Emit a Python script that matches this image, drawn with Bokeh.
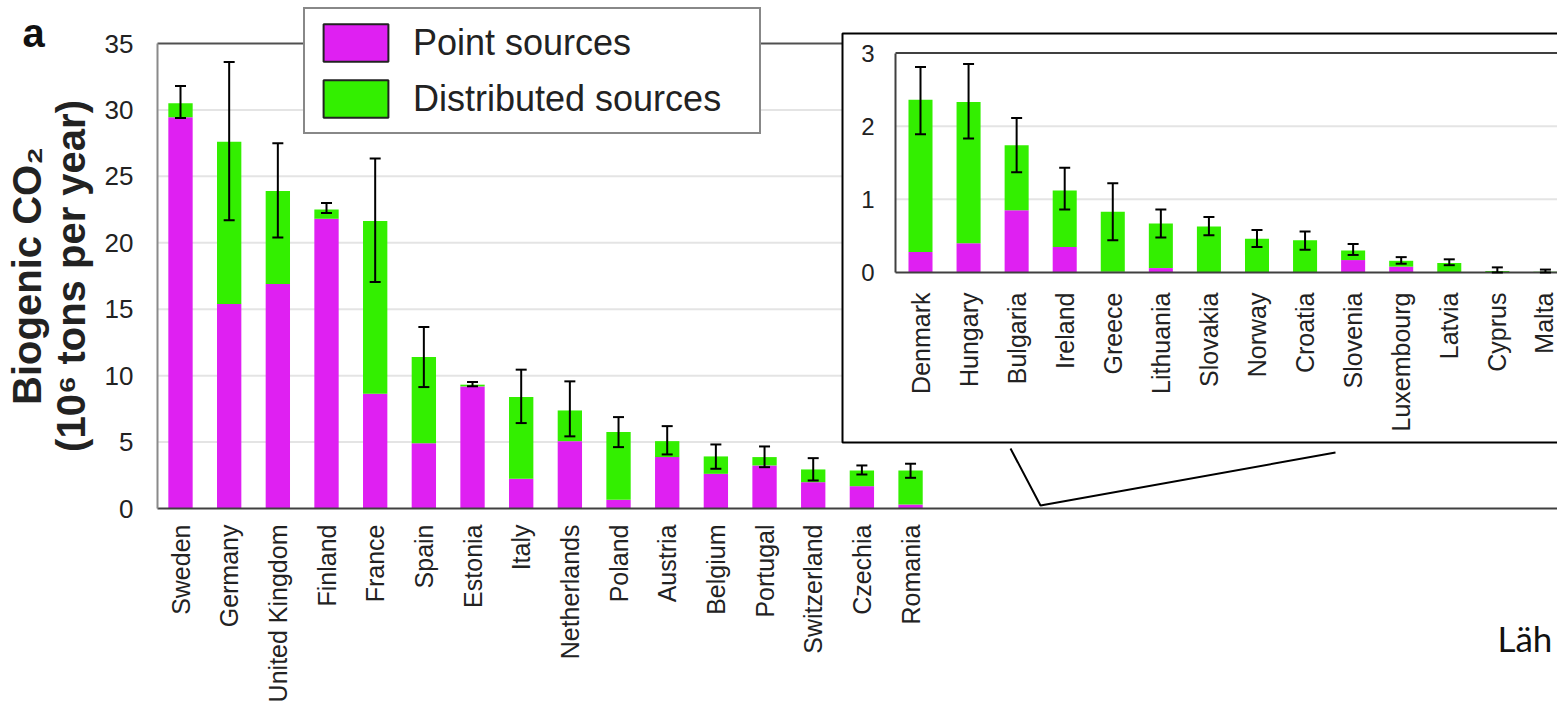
from math import pi
from bokeh.plotting import figure
from bokeh.models import (Range1d, LinearAxis, FixedTicker, ColumnDataSource, Whisker,
                          Legend, LegendItem, Label, TeeHead)
from bokeh.embed import file_html
from bokeh.resources import INLINE

# ---------------- data ----------------
main_countries = ["Sweden", "Germany", "United Kingdom", "Finland", "France", "Spain",
                  "Estonia", "Italy", "Netherlands", "Poland", "Austria", "Belgium",
                  "Portugal", "Switzerland", "Czechia", "Romania"]
main_point = [29.45, 15.4, 16.9, 21.8, 8.64, 4.92, 9.19, 2.24, 5.07, 0.65, 3.87, 2.61,
              3.24, 1.98, 1.68, 0.30]
main_distributed = [1.05, 12.2, 7.0, 0.7, 13.0, 6.48, 0.13, 6.15, 2.31, 5.10, 1.20, 1.31,
                    0.63, 0.96, 1.18, 2.56]
main_err_low = [29.4, 21.7, 20.4, 22.25, 17.05, 9.14, 9.2, 6.43, 5.43, 4.62, 4.07, 2.99,
                3.11, 2.11, 2.56, 2.31]
main_err_high = [31.8, 33.6, 27.5, 23.0, 26.35, 13.66, 9.52, 10.45, 9.57, 6.88, 6.2, 4.82,
                 4.67, 3.79, 3.24, 3.37]

inset_countries = ["Denmark", "Hungary", "Bulgaria", "Ireland", "Greece", "Lithuania",
                   "Slovakia", "Norway", "Croatia", "Slovenia", "Luxembourg", "Latvia",
                   "Cyprus", "Malta"]
inset_point = [0.28, 0.40, 0.85, 0.35, 0.01, 0.06, 0.0, 0.0, 0.0, 0.17, 0.08, 0.0, 0.0, 0.0]
inset_distributed = [2.08, 1.93, 0.89, 0.77, 0.82, 0.61, 0.63, 0.46, 0.44, 0.13, 0.08, 0.13,
                     0.02, 0.01]
inset_err_low = [1.89, 1.83, 1.37, 0.86, 0.44, 0.48, 0.51, 0.35, 0.31, 0.24, 0.12, 0.10,
                 0.0, 0.0]
inset_err_high = [2.81, 2.85, 2.11, 1.43, 1.22, 0.86, 0.76, 0.58, 0.56, 0.39, 0.21, 0.18,
                  0.07, 0.04]

main_yticks = [0, 5, 10, 15, 20, 25, 30, 35]
inset_yticks = [0, 1, 2, 3]

MAGENTA = "#DF20F2"
GREEN = "#33EF00"
FONT = "Liberation Sans"
NAN = float("nan")

# ---------------- geometry (reference pixels) ----------------
W, H = 1557, 705

# main scale
M_X0, M_DX = 180, 48.67
M_Y0, M_DY = 508, (508 - 43) / 35.0
def mx(c): return (c - M_X0) / M_DX
def my(c): return (M_Y0 - c) / M_DY
# inset scale
I_X0, I_DX = 920, 48.07
I_Y0, I_DY = 272, (272 - 52.5) / 3.0
def ix(c): return (c - I_X0) / I_DX
def iy(c): return (I_Y0 - c) / I_DY

p = figure(width=W, height=H, output_backend="svg", toolbar_location=None,
           x_range=Range1d(mx(0), mx(W)), y_range=Range1d(my(H), my(0)),
           x_axis_type=None, y_axis_type=None, min_border=0,
           min_border_left=0, min_border_right=0, min_border_top=0, min_border_bottom=0)
p.outline_line_color = None
p.background_fill_color = "white"
p.border_fill_color = "white"
p.grid.visible = False
p.extra_x_ranges = {"ix": Range1d(ix(0), ix(W))}
p.extra_y_ranges = {"iy": Range1d(iy(H), iy(0))}

AX_L = mx(157)
AX_R = mx(W + 20)

# ---------------- main chart ----------------
gy = main_yticks[1:-1]
p.segment(x0=[AX_L] * len(gy), y0=gy, x1=[AX_R] * len(gy), y1=gy,
          line_color="#e4e4e4", line_width=2)
# top border of main frame
p.segment(x0=AX_L, y0=main_yticks[-1], x1=AX_R, y1=main_yticks[-1],
          line_color="#505050", line_width=2)

yaxis = LinearAxis(fixed_location=AX_L, ticker=FixedTicker(ticks=main_yticks),
                   bounds=(0, 35),
                   axis_line_color="#8a8a8a", axis_line_width=2,
                   major_tick_line_color=None, minor_tick_line_color=None,
                   major_label_text_font=FONT, major_label_text_font_size="26px",
                   major_label_text_color="#222222", major_label_standoff=18,
                   axis_label="Biogenic CO\u2082\n(10\u2076 tons per year)",
                   axis_label_text_font=FONT, axis_label_text_font_size="40px",
                   axis_label_text_font_style="bold", axis_label_text_color="#222222",
                   axis_label_text_line_height=0.98, axis_label_standoff=9)
p.add_layout(yaxis, "left")

xaxis = LinearAxis(fixed_location=0, bounds=(AX_L, AX_R),
                   ticker=FixedTicker(ticks=list(range(len(main_countries)))),
                   major_label_overrides={i: c for i, c in enumerate(main_countries)},
                   major_label_orientation=pi / 2,
                   axis_line_color="#404040", axis_line_width=2,
                   major_tick_line_color=None, minor_tick_line_color=None,
                   major_label_text_font=FONT, major_label_text_font_size="25px",
                   major_label_text_color="#222222", major_label_standoff=10)
p.add_layout(xaxis, "below")

msrc = ColumnDataSource(dict(
    x=list(range(len(main_countries))),
    point=main_point,
    total=[a + b for a, b in zip(main_point, main_distributed)],
    lo=main_err_low, hi=main_err_high))
p.vbar(x="x", width=0.5, bottom=0, top="point", source=msrc,
       fill_color=MAGENTA, line_color=None)
p.vbar(x="x", width=0.5, bottom="point", top="total", source=msrc,
       fill_color=GREEN, line_color=None)

# callout lines towards inset
p.line(x=[mx(1010), mx(1040), mx(1335)],
       y=[my(448), my(505), my(452)], line_color="black", line_width=2)

# ---------------- inset ----------------
p.quad(left=mx(842), right=mx(W + 50), top=my(33), bottom=my(442),
       fill_color="white", line_color="black", line_width=2)

IL = ix(895)
IR = ix(W + 20)
igy = inset_yticks[1:-1]
p.segment(x0=[IL] * len(igy), y0=igy, x1=[IR] * len(igy), y1=igy, line_color="#e4e4e4",
          line_width=2, x_range_name="ix", y_range_name="iy")
p.segment(x0=IL, y0=inset_yticks[-1], x1=IR, y1=inset_yticks[-1], line_color="#404040",
          line_width=2, x_range_name="ix", y_range_name="iy")

isrc = ColumnDataSource(dict(
    x=list(range(len(inset_countries))),
    point=inset_point,
    total=[a + b for a, b in zip(inset_point, inset_distributed)],
    lo=inset_err_low, hi=inset_err_high))
p.vbar(x="x", width=0.5, bottom=0, top="point", source=isrc,
       fill_color=MAGENTA, line_color=None, x_range_name="ix", y_range_name="iy")
p.vbar(x="x", width=0.5, bottom="point", top="total", source=isrc,
       fill_color=GREEN, line_color=None, x_range_name="ix", y_range_name="iy")

iyaxis = LinearAxis(x_range_name="ix", y_range_name="iy", fixed_location=IL,
                    ticker=FixedTicker(ticks=inset_yticks), bounds=(0, 3),
                    axis_line_color="#404040", axis_line_width=2,
                    major_tick_line_color=None, minor_tick_line_color=None,
                    major_label_text_font=FONT, major_label_text_font_size="24px",
                    major_label_text_color="#222222", major_label_standoff=15)
p.add_layout(iyaxis, "left")

ixaxis = LinearAxis(x_range_name="ix", y_range_name="iy", fixed_location=0,
                    bounds=(IL, IR),
                    ticker=FixedTicker(ticks=list(range(len(inset_countries)))),
                    major_label_overrides={i: c for i, c in enumerate(inset_countries)},
                    major_label_orientation=pi / 2,
                    axis_line_color="#404040", axis_line_width=2,
                    major_tick_line_color=None, minor_tick_line_color=None,
                    major_label_text_font=FONT, major_label_text_font_size="25px",
                    major_label_text_color="#222222", major_label_standoff=14)
p.add_layout(ixaxis, "below")

# ---------------- error bars ----------------
for src, kw in ((msrc, {}), (isrc, dict(x_range_name="ix", y_range_name="iy"))):
    p.add_layout(Whisker(base="x", lower="lo", upper="hi", source=src, level="annotation",
                         line_color="black", line_width=2,
                         upper_head=TeeHead(size=11, line_width=2, line_color="black"),
                         lower_head=TeeHead(size=11, line_width=2, line_color="black"),
                         **kw))

# ---------------- legend (proxy swatches with no drawable data) ----------------
lp = p.vbar(x=[NAN], bottom=[NAN], top=[NAN], width=0.5, fill_color=MAGENTA,
            line_color="#222222", line_width=2)
ld = p.vbar(x=[NAN], bottom=[NAN], top=[NAN], width=0.5, fill_color=GREEN,
            line_color="#222222", line_width=2)
legend = Legend(items=[LegendItem(label="Point sources", renderers=[lp]),
                       LegendItem(label="Distributed sources", renderers=[ld])],
                location=(303, H - 134), orientation="vertical",
                border_line_color="#111111", border_line_width=2,
                background_fill_color="white", background_fill_alpha=1.0,
                padding=10, spacing=9, margin=0,
                glyph_width=81, glyph_height=47, label_height=47, label_width=336,
                label_standoff=17, label_text_font=FONT, label_text_font_size="36px",
                label_text_color="#222222")
p.add_layout(legend)

# ---------------- texts ----------------
p.add_layout(Label(x=mx(22), y=my(32), text="a", text_font=FONT,
                   text_font_size="40px", text_font_style="bold", text_color="#111111",
                   text_baseline="alphabetic"))
p.add_layout(Label(x=mx(1497), y=my(637), text="Läh", text_font="Lato",
                   text_font_size="35px", text_color="#111111",
                   text_baseline="alphabetic"))

open("out.html", "w").write(file_html(p, INLINE))
